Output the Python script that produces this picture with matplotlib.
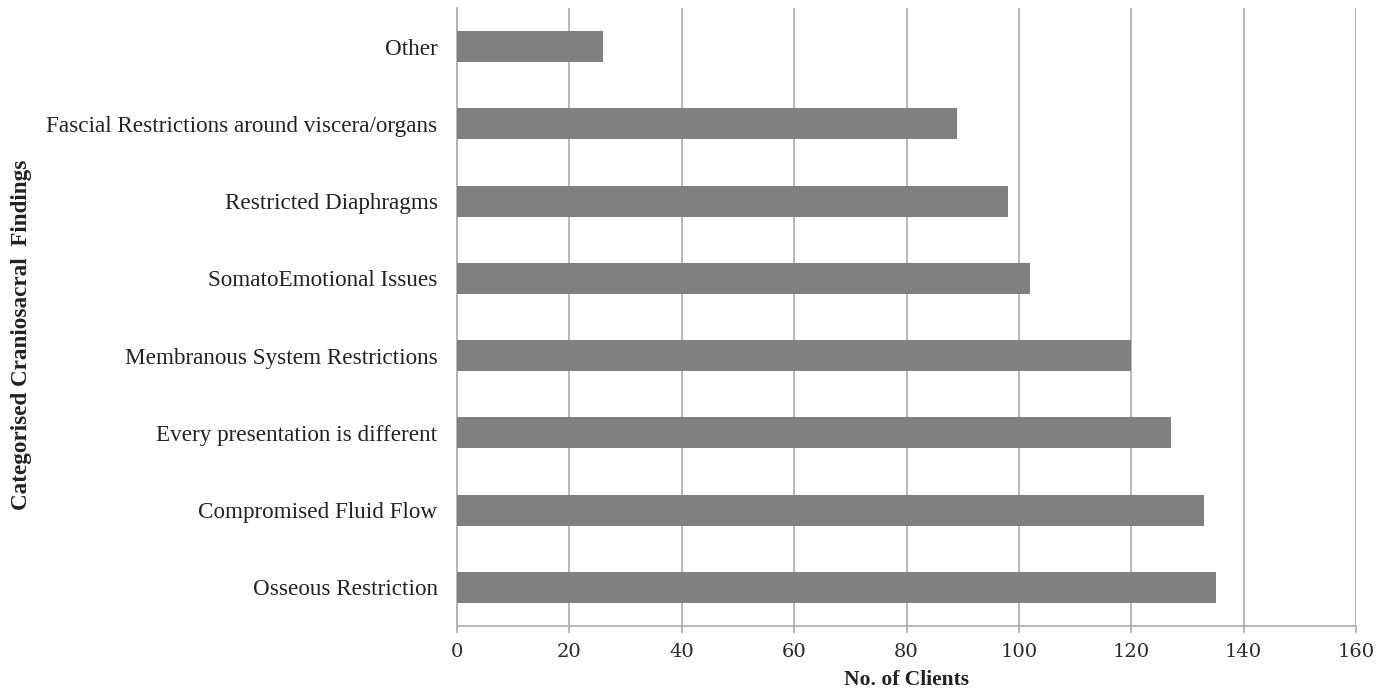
"""Horizontal bar chart of categorised craniosacral findings."""

import matplotlib
matplotlib.use("Agg")
import matplotlib.pyplot as plt

# ---------------------------------------------------------------------------
# Data (bottom to top, as drawn)
# ---------------------------------------------------------------------------
categories = [
    "Osseous Restriction",
    "Compromised Fluid Flow",
    "Every presentation is different",
    "Membranous System Restrictions",
    "SomatoEmotional Issues",
    "Restricted Diaphragms",
    "Fascial Restrictions around viscera/organs",
    "Other",
]
clients = [135, 133, 127, 120, 102, 98, 89, 26]
x_ticks = [0, 20, 40, 60, 80, 100, 120, 140, 160]

BAR_COLOR = "#808080"
GRID_COLOR = "#ababab"

fig = plt.figure(figsize=(13.92, 6.99), dpi=100)
ax = fig.add_axes([457 / 1392, 1 - 626 / 699, (1356 - 457) / 1392, (626 - 8) / 699])

ax.barh(range(len(categories)), clients, height=0.4, color=BAR_COLOR, zorder=3)

ax.set_xlim(0, 160)
ax.set_ylim(-0.5, len(categories) - 0.5)
ax.set_xticks(x_ticks)
ax.set_xticklabels([str(t) for t in x_ticks], family="DejaVu Serif",
                   fontsize=14, color="#2a2a2a")
ax.set_yticks(range(len(categories)))
ax.set_yticklabels(categories, family="Liberation Serif", fontsize=16.7,
                   color="#222222")

ax.grid(axis="x", color=GRID_COLOR, linewidth=1.2, zorder=0)
ax.tick_params(axis="y", length=0, pad=14)
ax.tick_params(axis="x", length=5, width=1.2, color=GRID_COLOR, pad=7)

for side in ("top", "right"):
    ax.spines[side].set_visible(False)
for side in ("left", "bottom"):
    ax.spines[side].set_color(GRID_COLOR)
    ax.spines[side].set_linewidth(1.2)

fig.text(906 / 1392, 1 - 680 / 699, "No. of Clients", ha="center", va="center",
         family="Liberation Serif", fontweight="bold", fontsize=15.5,
         color="#222222")
fig.text(22 / 1392, 1 - 335 / 699, "Categorised Craniosacral  Findings",
         rotation=90, ha="center", va="center", family="Liberation Serif",
         fontweight="bold", fontsize=16.7, color="#222222")

fig.savefig("out.png", dpi=100)
plt.close(fig)
